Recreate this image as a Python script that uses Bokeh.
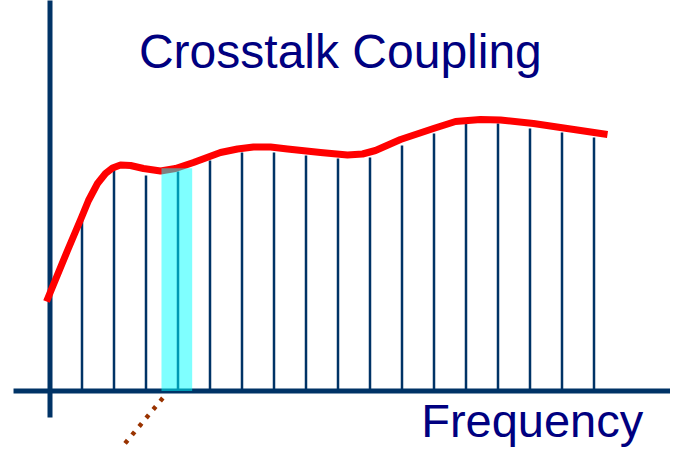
from bokeh.plotting import figure
from bokeh.models import Range1d, Label
from bokeh.embed import file_html
from bokeh.resources import INLINE

# ---- data (frequency bins, arbitrary coupling units) ----
bins = list(range(1, 18))
bin_height = [8.78, 11.08, 10.78, 10.98, 11.53, 11.93, 11.93, 11.78, 11.63,
              11.68, 12.28, 12.88, 13.38, 13.38, 13.13, 12.93, 12.68]

curve_freq = [-0.109, 0.547, 0.984, 1.203, 1.484, 1.734, 1.953, 2.203,
              2.516, 2.922, 3.453, 3.922, 4.484, 5.328, 5.859, 6.359, 6.891,
              7.422, 8.453, 9.297, 9.766, 10.172, 10.953, 11.984, 12.672,
              13.453, 14.078, 15.109, 17.422]
curve_coupling = [4.475, 7.025, 8.675, 9.525, 10.375, 10.875, 11.15,
                  11.3, 11.275, 11.125, 11.0, 11.125, 11.425, 11.925, 12.1,
                  12.2, 12.2, 12.1, 11.925, 11.8, 11.85, 12.025, 12.575,
                  13.125, 13.475, 13.575, 13.55, 13.375, 12.825]

highlight_bin = 4          # the selected frequency bin
highlight_top = 11.14
pointer_x = [3.525, 1.578]
pointer_y = [-0.35, -4.095]

title_text = "Crosstalk Coupling"
axis_text = "Frequency"

NAVY = "#003366"

p = figure(width=670, height=447, output_backend="svg", toolbar_location=None,
           x_range=Range1d(-1.546875, 19.390625), y_range=Range1d(-2.825, 19.525),
           x_axis_type=None, y_axis_type=None, min_border=0,
           outline_line_color=None, background_fill_color="white",
           border_fill_color="white")
p.grid.visible = False

# stems
p.segment(x0=bins, y0=[0] * len(bins), x1=bins, y1=bin_height,
          line_color=NAVY, line_width=2.5)

# axes drawn as lines
p.segment(x0=[-1.14], y0=[0], x1=[20.5], y1=[0], line_color=NAVY, line_width=5)
p.segment(x0=[0], y0=[-1.325], x1=[0], y1=[20.5], line_color=NAVY, line_width=5)

# coupling curve
p.line(curve_freq, curve_coupling, line_color="#FF0000", line_width=7,
       line_join="round")

# highlighted bin
p.quad(left=[highlight_bin - 0.516], right=[highlight_bin + 0.443],
       bottom=[0.0], top=[highlight_top], fill_color="#00FFFF",
       fill_alpha=0.5, line_color=None)

# dotted pointer
p.line(pointer_x, pointer_y, line_color="#993300", line_width=4.5,
       line_dash="4 7")

p.add_layout(Label(x=2.78, y=16.96, text=title_text, text_font="Liberation Sans",
                   text_font_size="48px", text_color="#000080",
                   text_baseline="alphabetic", text_align="left"))
p.add_layout(Label(x=11.6, y=-1.45, text=axis_text, text_font="Liberation Sans",
                   text_font_size="47px", text_color="#000080",
                   text_baseline="alphabetic", text_align="left"))

open("out.html", "w").write(file_html(p, INLINE))
